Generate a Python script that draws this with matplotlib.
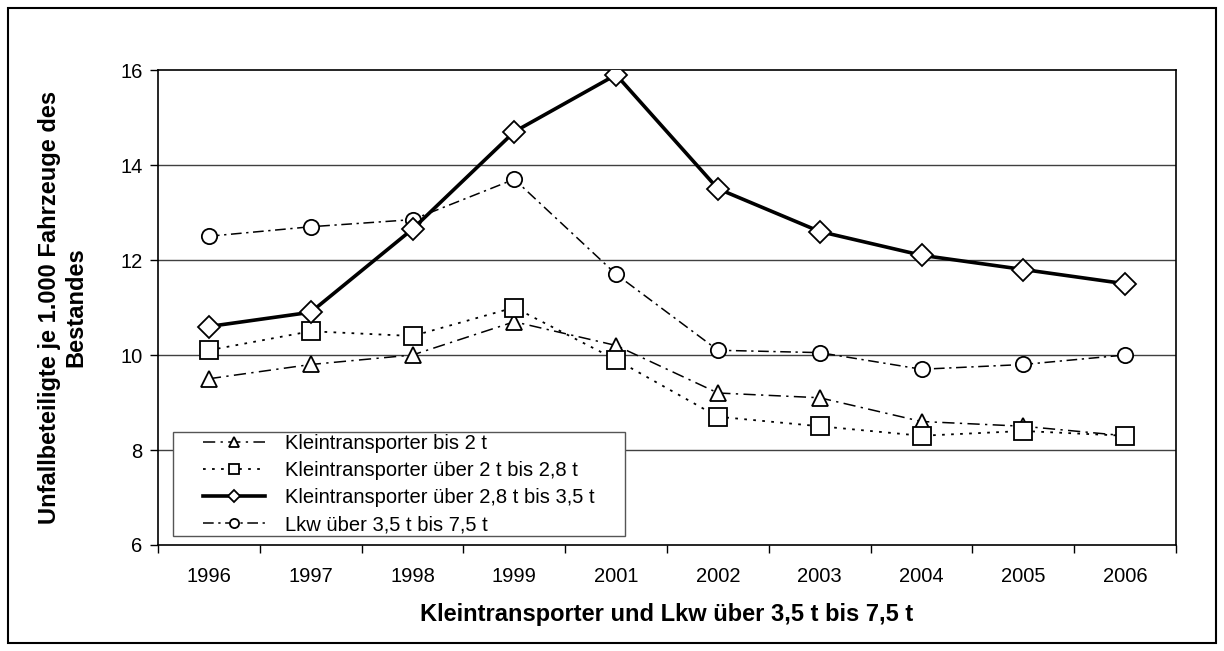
import matplotlib
matplotlib.use("Agg")
import matplotlib.pyplot as plt
from matplotlib.patches import Rectangle
from matplotlib.ticker import FixedLocator, NullFormatter, FixedFormatter

years = ["1996", "1997", "1998", "1999", "2001", "2002", "2003", "2004", "2005", "2006"]
bis_2t = [9.5, 9.8, 10.0, 10.7, 10.2, 9.2, 9.1, 8.6, 8.5, 8.3]
ueber_2_bis_28 = [10.1, 10.5, 10.4, 11.0, 9.9, 8.7, 8.5, 8.3, 8.4, 8.3]
ueber_28_bis_35 = [10.6, 10.9, 12.65, 14.7, 15.9, 13.5, 12.6, 12.1, 11.8, 11.5]
lkw_35_bis_75 = [12.5, 12.7, 12.85, 13.7, 11.7, 10.1, 10.05, 9.7, 9.8, 10.0]
labels = ["Kleintransporter bis 2 t",
          "Kleintransporter über 2 t bis 2,8 t",
          "Kleintransporter über 2,8 t bis 3,5 t",
          "Lkw über 3,5 t bis 7,5 t"]
y_ticks = [6, 8, 10, 12, 14, 16]

plt.rcParams['font.family'] = ['Liberation Sans', 'DejaVu Sans']

W, H = 1224, 651
fig = plt.figure(figsize=(W / 100, H / 100), dpi=100)
fig.patches.append(Rectangle((8 / W, 8 / H), (1216 - 8) / W, (643 - 8) / H,
                             transform=fig.transFigure, fill=False,
                             edgecolor='black', linewidth=1.5, zorder=0))

left, right, top, bottom = 158, 1176, 70, 545
AW, AH = right - left, bottom - top
ax = fig.add_axes([left / W, 1 - bottom / H, AW / W, AH / H])

x = list(range(len(years)))
mk = dict(markerfacecolor='white', markeredgecolor='black', markeredgewidth=1.3, color='black')
ax.plot(x, bis_2t, linestyle=(0, (8, 3.5, 1.5, 3.5)), linewidth=1.1, marker='^', markersize=12,
        label=labels[0], zorder=3, **mk)
ax.plot(x, ueber_2_bis_28, linestyle=(0, (1.5, 3.5)), linewidth=1.3, marker='s', markersize=13,
        label=labels[1], zorder=3, **mk)
ax.plot(x, ueber_28_bis_35, linestyle='-', linewidth=2.6, marker='D', markersize=11,
        label=labels[2], zorder=4, **mk)
ax.plot(x, lkw_35_bis_75, linestyle=(0, (7, 3, 1.5, 3)), linewidth=1.1, marker='o', markersize=11,
        label=labels[3], zorder=3, **mk)

ax.set_xlim(-0.5, len(years) - 0.5)
ax.set_ylim(6, 16)
ax.set_yticks(y_ticks)
for yv in y_ticks[1:-1]:
    ax.axhline(yv, color='#404040', linewidth=1.0, zorder=1)

ax.xaxis.set_major_locator(FixedLocator([i - 0.5 for i in range(len(years) + 1)]))
ax.xaxis.set_major_formatter(NullFormatter())
ax.xaxis.set_minor_locator(FixedLocator(x))
ax.xaxis.set_minor_formatter(FixedFormatter(years))
ax.tick_params(axis='x', which='major', direction='out', length=6, width=1, color='black')
ax.tick_params(axis='x', which='minor', length=0, labelsize=14.5, pad=16)
ax.tick_params(axis='y', direction='out', length=6, width=1, labelsize=14.5, pad=5)
for s in ax.spines.values():
    s.set_linewidth(1.2)
    s.set_color('black')

ax.set_xlabel("Kleintransporter und Lkw über 3,5 t bis 7,5 t", fontsize=17, fontweight='bold', labelpad=12)
ax.set_ylabel("Unfallbeteiligte je 1.000 Fahrzeuge des\nBestandes", fontsize=17, fontweight='bold',
              labelpad=24, linespacing=1.15)

# legend frame (drawn separately so it can be wider than its content)
ax.add_patch(Rectangle(((173 - left) / AW, (bottom - 536) / AH), 452 / AW, 104 / AH,
                       transform=ax.transAxes, facecolor='white', edgecolor='#555555',
                       linewidth=1.0, zorder=4.5))
leg = ax.legend(loc='upper left', bbox_to_anchor=((203 - left) / AW, (bottom - 434) / AH),
                fontsize=14.5, frameon=False, handlelength=3.1, markerscale=0.6,
                labelspacing=0.4, borderpad=0, handletextpad=0.95, borderaxespad=0)
leg.set_zorder(5)

fig.savefig("out.png", dpi=100)
